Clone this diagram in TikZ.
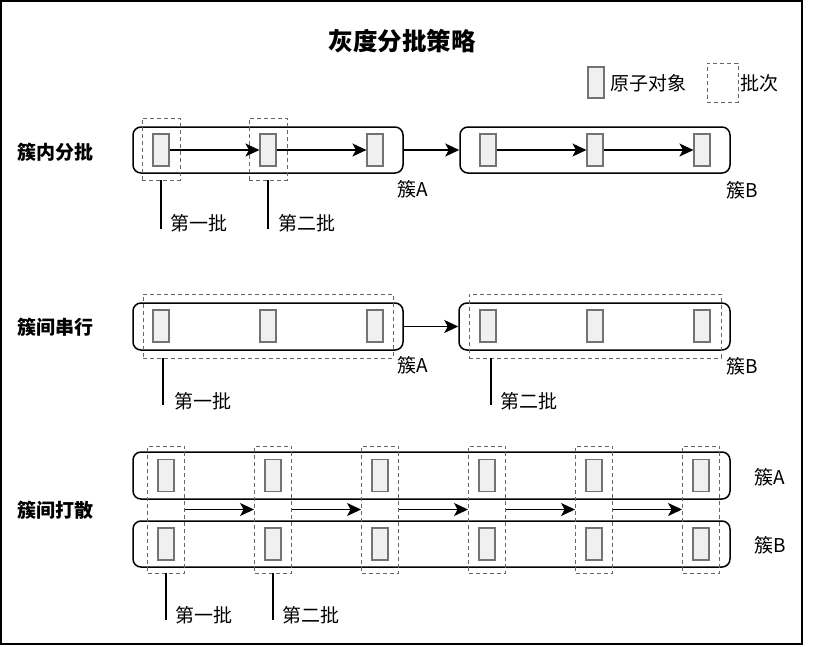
\documentclass[tikz,border=0pt]{standalone}
\usepackage{fontspec}
\setmainfont{Noto Sans CJK SC}
\usetikzlibrary{arrows.meta,positioning}

\tikzset{
  cluster/.style={draw, line width=1.5pt, rounded corners=8pt, minimum height=46pt, inner sep=0pt},
  atom/.style={draw=black!55, fill=black!6, line width=1.1pt, minimum width=16pt, minimum height=32pt, inner sep=0pt},
  batch/.style={draw=black!60, dash pattern=on 4pt off 3pt, line width=0.9pt, inner sep=0pt},
  flow/.style={-{Stealth[length=14pt,width=13pt,inset=3.5pt]}, line width=1.5pt},
  lead/.style={line width=1.2pt},
  txt/.style={inner sep=0pt, font=\fontsize{19}{21}\selectfont},
  rowname/.style={inner sep=0pt, anchor=west, font=\bfseries\fontsize{19}{21}\selectfont}
}

\begin{document}
\begin{tikzpicture}[x=1pt, y=-1pt]
        \useasboundingbox (0,0) rectangle (830,646);
        \draw[line width=1.5pt] (1,1) rectangle (802,644);

        % Title and legend
        \node[inner sep=0pt, font=\bfseries\fontsize{24.5}{26}\selectfont] (title) at (402,41) {灰度分批策略};
        \node[atom, minimum height=31pt] (legatom) at (596,82.5) {};
        \node[txt, anchor=west] (legatomtxt) at (610,83) {原子对象};
        \node[batch, minimum width=31pt, minimum height=39pt] (legbatch) at (722.5,82.5) {};
        \node[txt, anchor=west] (legbatchtxt) at (740,83) {批次};

        % Row 1
        \node[rowname] (row1) at (17,152) {簇内分批};
        \node[cluster, minimum width=270pt] (cA1) at (268,150) {};
        \node[cluster, minimum width=270pt] (cB1) at (595,150) {};
        \node[atom] (a11) at (161,150) {};
        \node[atom] (a12) at (268,150) {};
        \node[atom] (a13) at (375,150) {};
        \node[atom] (b11) at (488,150) {};
        \node[atom] (b12) at (595,150) {};
        \node[atom] (b13) at (702,150) {};
        \node[batch, minimum width=38pt, minimum height=62pt] (p11) at (161,149) {};
        \node[batch, minimum width=38pt, minimum height=62pt] (p12) at (268,149) {};
        \node[txt] (nA1) at (413,189) {簇A};
        \node[txt] (nB1) at (742,190) {簇B};
        \draw[flow] (a11) -- (a12);
        \draw[flow] (a12) -- (a13);
        \draw[flow] (cA1) -- (cB1);
        \draw[flow] (b11) -- (b12);
        \draw[flow] (b12) -- (b13);
        \coordinate (l11) at (161,229);
        \coordinate (l12) at (268,229);
        \draw[lead] (p11.south) -- (l11);
        \draw[lead] (p12.south) -- (l12);
        \node[txt, anchor=west] (t11) at (170,223) {第一批};
        \node[txt, anchor=west] (t12) at (278,223) {第二批};

        % Row 2
        \node[rowname] (row2) at (17,327) {簇间串行};
        \node[cluster, minimum width=270pt, minimum height=47pt] (cA2) at (268,326.5) {};
        \node[cluster, minimum width=271pt, minimum height=47pt] (cB2) at (594.5,326.5) {};
        \node[atom] (a21) at (161,326) {};
        \node[atom] (a22) at (268,326) {};
        \node[atom] (a23) at (375,326) {};
        \node[atom] (b21) at (488,326) {};
        \node[atom] (b22) at (595,326) {};
        \node[atom] (b23) at (702,326) {};
        \node[batch, minimum width=250pt, minimum height=64pt] (q1) at (268,326) {};
        \node[batch, minimum width=252pt, minimum height=64pt] (q2) at (595,326) {};
        \node[txt] (nA2) at (413,365) {簇A};
        \node[txt] (nB2) at (742,366) {簇B};
        \draw[flow] (cA2) -- (cB2);
        \coordinate (l21) at (163,405);
        \coordinate (l22) at (491,405);
        \draw[lead] (q1.south -| l21) -- (l21);
        \draw[lead] (q2.south -| l22) -- (l22);
        \node[txt, anchor=west] (t21) at (174,401) {第一批};
        \node[txt, anchor=west] (t22) at (500,401) {第二批};

        % Row 3
        \node[rowname] (row3) at (17,510) {簇间打散};
        \node[cluster, minimum width=597pt, minimum height=47pt] (cA3) at (431.5,475.5) {};
        \node[cluster, minimum width=597pt] (cB3) at (431.5,544) {};
        \node[atom] (a31) at (166,475.5) {};
        \node[atom] (a32) at (273,475.5) {};
        \node[atom] (a33) at (380,475.5) {};
        \node[atom] (a34) at (487,475.5) {};
        \node[atom] (a35) at (594,475.5) {};
        \node[atom] (a36) at (701,475.5) {};
        \node[atom] (b31) at (166,544) {};
        \node[atom] (b32) at (273,544) {};
        \node[atom] (b33) at (380,544) {};
        \node[atom] (b34) at (487,544) {};
        \node[atom] (b35) at (594,544) {};
        \node[atom] (b36) at (701,544) {};
        \node[batch, minimum width=37pt, minimum height=127pt] (r1) at (166,509.5) {};
        \node[batch, minimum width=37pt, minimum height=127pt] (r2) at (273,509.5) {};
        \node[batch, minimum width=37pt, minimum height=127pt] (r3) at (380,509.5) {};
        \node[batch, minimum width=37pt, minimum height=127pt] (r4) at (487,509.5) {};
        \node[batch, minimum width=37pt, minimum height=127pt] (r5) at (594,509.5) {};
        \node[batch, minimum width=37pt, minimum height=127pt] (r6) at (701,509.5) {};
        \node[txt] (nA3) at (770,477) {簇A};
        \node[txt] (nB3) at (770,545) {簇B};
        \draw[flow] (r1) -- (r2);
        \draw[flow] (r2) -- (r3);
        \draw[flow] (r3) -- (r4);
        \draw[flow] (r4) -- (r5);
        \draw[flow] (r5) -- (r6);
        \coordinate (l31) at (166,620);
        \coordinate (l32) at (273,620);
        \draw[lead] (r1.south) -- (l31);
        \draw[lead] (r2.south) -- (l32);
        \node[txt, anchor=west] (t31) at (175,615) {第一批};
        \node[txt, anchor=west] (t32) at (282,615) {第二批};
\end{tikzpicture}
\end{document}
